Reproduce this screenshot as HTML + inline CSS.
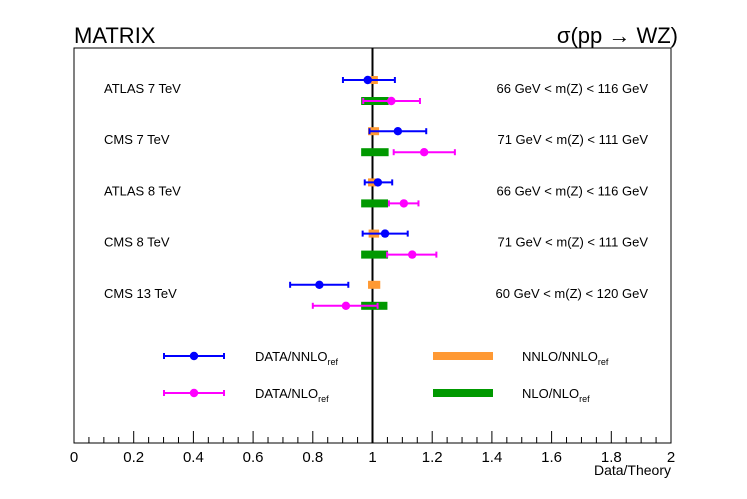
<!DOCTYPE html>
<html><head><meta charset="utf-8"><style>
body{margin:0;background:#fff}
svg text{font-family:"Liberation Sans",Arial,sans-serif}
</style></head><body>
<svg id="c" width="747" height="494" xmlns="http://www.w3.org/2000/svg">
<text x="74" y="43" font-size="22">MATRIX</text>
<text x="678" y="43" font-size="22" text-anchor="end">σ(pp → WZ)</text>
<rect x="74" y="48" width="597" height="395" fill="none" stroke="#000" stroke-width="1"/>
<g id="axis"></g>
<g id="marks"></g>
<text x="671" y="475" font-size="14" text-anchor="end">Data/Theory</text>
</svg>
<script>
const labels=["ATLAS 7 TeV","CMS 7 TeV","ATLAS 8 TeV","CMS 8 TeV","CMS 13 TeV"];
const ranges=["66 GeV < m(Z) < 116 GeV","71 GeV < m(Z) < 111 GeV","66 GeV < m(Z) < 116 GeV","71 GeV < m(Z) < 111 GeV","60 GeV < m(Z) < 120 GeV"];
const nnloVal=[0.984,1.085,1.018,1.042,0.822];
const nnloLo=[0.901,0.990,0.974,0.967,0.724];
const nnloHi=[1.075,1.180,1.066,1.118,0.919];
const nloVal=[1.063,1.173,1.105,1.133,0.911];
const nloLo=[0.969,1.071,1.055,1.049,0.800];
const nloHi=[1.159,1.276,1.154,1.214,1.017];
const nnloBandLo=[0.993,0.985,0.985,0.987,0.985];
const nnloBandHi=[1.018,1.022,1.012,1.022,1.026];
const nloBandLo=[0.962,0.962,0.962,0.962,0.962];
const nloBandHi=[1.054,1.054,1.052,1.052,1.050];
const xTicks=[0,0.2,0.4,0.6,0.8,1,1.2,1.4,1.6,1.8,2];
const xTickLabels=["0","0.2","0.4","0.6","0.8","1","1.2","1.4","1.6","1.8","2"];
const NS="http://www.w3.org/2000/svg";
const X=v=>74+v*298.5;
const rowY=i=>80+51.2*i;
function mk(p,t,a){const e=document.createElementNS(NS,t);for(const k in a)e.setAttribute(k,a[k]);p.appendChild(e);return e;}
const ax=document.getElementById('axis'),mg=document.getElementById('marks');
for(let k=1;k<40;k++){const v=k*0.05;if(k%4===0)continue;
 const t=mk(ax,'line',{x1:X(v),x2:X(v),y1:443,y2:437,stroke:'#000'});
 
 }
xTicks.forEach((v,i)=>{
 const t=mk(ax,'line',{x1:X(v),x2:X(v),y1:443,y2:431,stroke:'#000'});
 
 
 const l=mk(ax,'text',{x:X(v),y:462,'font-size':15,'text-anchor':'middle'});l.textContent=xTickLabels[i];
 
 
});
const ref=mk(mg,'line',{x1:X(1),x2:X(1),y1:48,y2:443,stroke:'#000','stroke-width':2});


function band(lo,hi,y,col,name){const r=mk(mg,'rect',{x:X(lo),y:y-4,width:X(hi)-X(lo),height:8,fill:col});
 
 }
function pt(v,lo,hi,y,col,name){const g=mk(mg,'g',{});
 
 
 mk(g,'line',{x1:X(lo),x2:X(hi),y1:y,y2:y,stroke:col,'stroke-width':2});
 mk(g,'line',{x1:X(lo),x2:X(lo),y1:y-3,y2:y+3,stroke:col,'stroke-width':2});
 mk(g,'line',{x1:X(hi),x2:X(hi),y1:y-3,y2:y+3,stroke:col,'stroke-width':2});
 mk(g,'circle',{cx:X(v),cy:y,r:4.2,fill:col});}
labels.forEach((lab,i)=>{
 const y=rowY(i);
 band(nnloBandLo[i],nnloBandHi[i],y,'#ff9933','nnlo-band');
 band(nloBandLo[i],nloBandHi[i],y+21,'#009900','nlo-band');
 pt(nnloVal[i],nnloLo[i],nnloHi[i],y,'#0000ff','data-nnlo-point');
 pt(nloVal[i],nloLo[i],nloHi[i],y+21,'#ff00ff','data-nlo-point');
 const t=mk(mg,'text',{x:104,y:y+13,'font-size':13});t.textContent=lab;
 
 
 const r=mk(mg,'text',{x:648,y:y+13,'font-size':13,'text-anchor':'end'});r.textContent=ranges[i];
 
 
});
</script>
<svg width="747" height="494" style="position:absolute;left:0;top:0" xmlns="http://www.w3.org/2000/svg">
<g font-family="Liberation Sans,Arial,sans-serif" font-size="13">
<g><line x1="164" x2="224" y1="356" y2="356" stroke="#00f" stroke-width="2"/><line x1="164" x2="164" y1="353" y2="359" stroke="#00f" stroke-width="2"/><line x1="224" x2="224" y1="353" y2="359" stroke="#00f" stroke-width="2"/><circle cx="194" cy="356" r="4.2" fill="#00f"/><text x="255" y="361">DATA/NNLO<tspan font-size="9" dy="4">ref</tspan></text></g>
<g><line x1="164" x2="224" y1="393" y2="393" stroke="#f0f" stroke-width="2"/><line x1="164" x2="164" y1="390" y2="396" stroke="#f0f" stroke-width="2"/><line x1="224" x2="224" y1="390" y2="396" stroke="#f0f" stroke-width="2"/><circle cx="194" cy="393" r="4.2" fill="#f0f"/><text x="255" y="398">DATA/NLO<tspan font-size="9" dy="4">ref</tspan></text></g>
<g><rect x="433" y="352" width="60" height="8" fill="#ff9933"/><text x="522" y="361">NNLO/NNLO<tspan font-size="9" dy="4">ref</tspan></text></g>
<g><rect x="433" y="389" width="60" height="8" fill="#009900"/><text x="522" y="398">NLO/NLO<tspan font-size="9" dy="4">ref</tspan></text></g>
</g></svg>
</body></html>
